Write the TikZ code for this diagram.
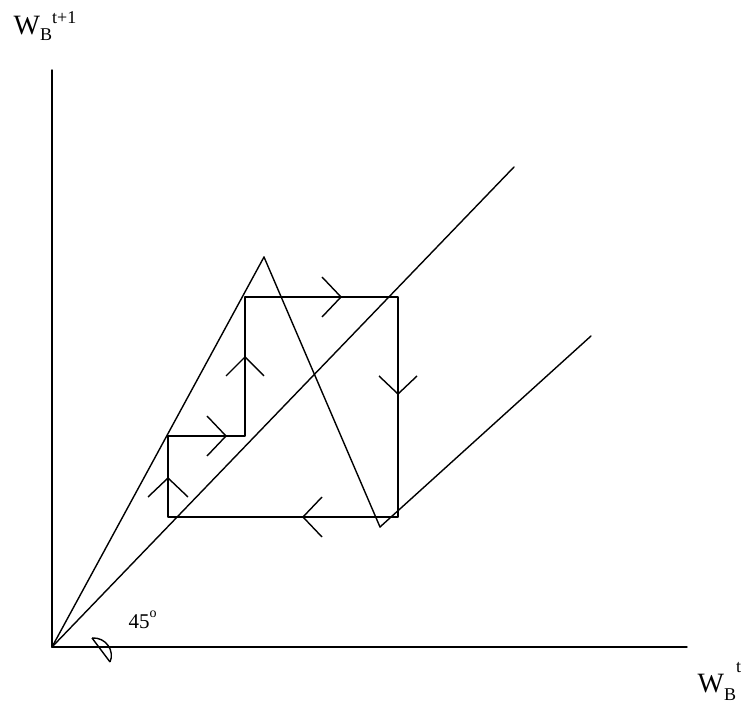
\documentclass[tikz,border=0pt]{standalone}
\usepackage{fontspec}
\setmainfont{Liberation Serif}
\usepackage{tkz-euclide}
\usetikzlibrary{calc}

\begin{document}
\begin{tikzpicture}[x=1pt, y=1pt, line width=1.4pt]
                \useasboundingbox (0,0) rectangle (751,711);
                \tkzSetUpLine[line width=1.4pt, color=black]
                \tkzDefPoint(52,64){O}
                \tkzDefPoint(52,641){Y}
                \tkzDefPoint(687,64){X}
                \tkzDefPoint(514,544){D}
                \tkzDefPoint(264,454){P}
                \tkzDefPoint(380,184){T}
                \tkzDefPoint(591,375){R}
                \tkzDefPoint(168,194){A}
                \tkzDefPoint(168,275){B}
                \tkzDefPoint(245,275){C}
                \tkzDefPoint(245,414){E}
                \tkzDefPoint(398,414){F}
                \tkzDefPoint(398,194){G}
                \tkzDefPoint(168,233){M1}
                \tkzDefPoint(226,275){M2}
                \tkzDefPoint(245,354){M3}
                \tkzDefPoint(341,414){M4}
                \tkzDefPoint(398,317){M5}
                \tkzDefPoint(303,194){M6}
                \tkzDefPoint(92,73){K1}
                \tkzDefPoint(110,49){K2}
                \tkzDrawSegments[line width=1.4pt](O,Y O,X O,D)
                \tkzDrawSegments[line width=1.4pt](O,P P,T T,R)
                \tkzDrawPolygon[line width=1.4pt](A,B,C,E,F,G)
                \draw ($(M1)+(-20,-19)$) -- (M1) -- ($(M1)+(20,-19)$);
                \draw ($(M2)+(-19,20)$) -- (M2) -- ($(M2)+(-19,-20)$);
                \draw ($(M3)+(-19,-19)$) -- (M3) -- ($(M3)+(19,-19)$);
                \draw ($(M4)+(-19,20)$) -- (M4) -- ($(M4)+(-19,-20)$);
                \draw ($(M5)+(-19,18)$) -- (M5) -- ($(M5)+(19,18)$);
                \draw ($(M6)+(19,20)$) -- (M6) -- ($(M6)+(19,-20)$);
                \draw (K1) -- (K2);
                \draw (K1) .. controls (106,74) and (115,60) .. (K2);
                \node[anchor=base west, inner sep=0] (ylab) at (13,676)
                  {\fontsize{28}{28}\selectfont W\raisebox{-6pt}{\fontsize{18}{18}\selectfont B}\raisebox{11pt}{\fontsize{18}{18}\selectfont t+1}};
                \node[anchor=base west, inner sep=0] (xlab) at (697,18)
                  {\fontsize{28}{28}\selectfont W\raisebox{-7pt}{\fontsize{18}{18}\selectfont B}\raisebox{20pt}{\fontsize{18}{18}\selectfont t}};
                \node[anchor=base west, inner sep=0] (ang) at (128,82)
                  {\fontsize{21}{21}\selectfont 45\raisebox{11pt}{\fontsize{14}{14}\selectfont o}};
                \end{tikzpicture}
\end{document}
